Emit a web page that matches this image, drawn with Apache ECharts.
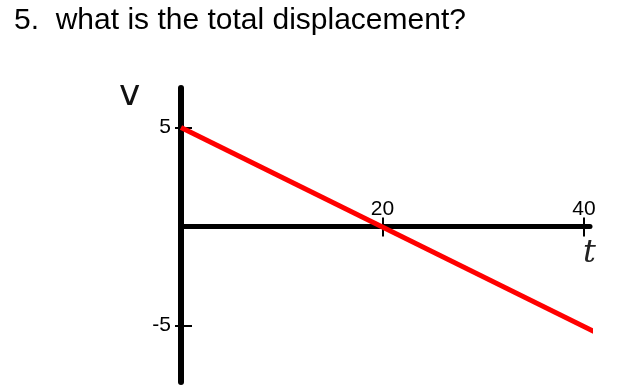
<!DOCTYPE html>
<html><head><meta charset="utf-8">
<script src="https://cdn.jsdelivr.net/npm/echarts@6/dist/echarts.min.js"></script>
<style>html,body{margin:0;padding:0;background:#fff}#c{width:628px;height:389px}</style>
</head><body><div id="c"></div>
<script>
const titleText = "5.  what is the total displacement?";
const yAxisName = "v";
const xAxisName = "t";
const xTicks = [20, 40];
const yTicks = [-5, 5];
const lineT = [0, 41];
const lineV = [5, -5.3];

const chart = echarts.init(document.getElementById('c'));
const font = "'Liberation Sans', Arial, sans-serif";
const lineData = lineT.map((t, i) => [t, lineV[i]]);
const yMin = -7.85, yMax = 7.0, gridTop = 88, gridBottom = 7, H = 389;
const zeroOffset = -((H - gridTop - gridBottom) * yMax / (yMax - yMin));
const xCommon = {type: 'value', min: 0, max: 40.6, splitLine: {show: false}};
const yCommon = {type: 'value', min: yMin, max: yMax, splitLine: {show: false}, position: 'left'};
chart.setOption({
  animation: false,
  backgroundColor: '#fff',
  grid: {left: 181, top: gridTop, right: 38, bottom: gridBottom, containLabel: false},
  title: {text: titleText, left: 9, top: 1,
    textStyle: {fontFamily: font, fontSize: 30, fontWeight: 'normal', color: '#000'}},
  xAxis: [
    Object.assign({}, xCommon, {
      position: 'bottom',
      axisLine: {onZero: true, lineStyle: {color: '#000', width: 5, cap: 'round'}},
      axisTick: {show: true, inside: false, length: 10, customValues: xTicks, lineStyle: {color: '#000', width: 2}},
      axisLabel: {show: false}
    }),
    Object.assign({}, xCommon, {
      position: 'top', offset: zeroOffset,
      axisLine: {show: false, onZero: false},
      axisTick: {show: true, inside: false, length: 9, customValues: xTicks, lineStyle: {color: '#000', width: 2}},
      axisLabel: {show: true, margin: 7, customValues: xTicks,
        fontFamily: font, fontSize: 21, color: '#000'}
    })
  ],
  yAxis: [
    Object.assign({}, yCommon, {
      axisLine: {onZero: false, lineStyle: {color: '#000', width: 6, cap: 'round'}},
      axisTick: {show: true, inside: false, length: 6, customValues: yTicks, lineStyle: {color: '#000', width: 2}},
      axisLabel: {show: true, margin: 10, customValues: yTicks,
        fontFamily: font, fontSize: 21, color: '#000'}
    }),
    Object.assign({}, yCommon, {
      axisLine: {show: false, onZero: false},
      axisTick: {show: true, inside: true, length: 11, customValues: yTicks, lineStyle: {color: '#000', width: 2}},
      axisLabel: {show: false}
    })
  ],
  graphic: [
    {type: 'text', left: 119, top: 78, style: {text: yAxisName, fontFamily: "'DejaVu Sans', sans-serif", fontSize: 36, fill: '#111'}},
    {type: 'text', left: 583, top: 238, style: {text: xAxisName, fontFamily: "'DejaVu Serif', serif", fontStyle: 'italic', fontSize: 32, fill: '#222'}}
  ],
  series: [{
    type: 'line', data: lineData, xAxisIndex: 0, yAxisIndex: 0,
    symbol: 'none', clip: false, z: 5,
    lineStyle: {color: '#ff0000', width: 5}
  }]
});
</script></body></html>
